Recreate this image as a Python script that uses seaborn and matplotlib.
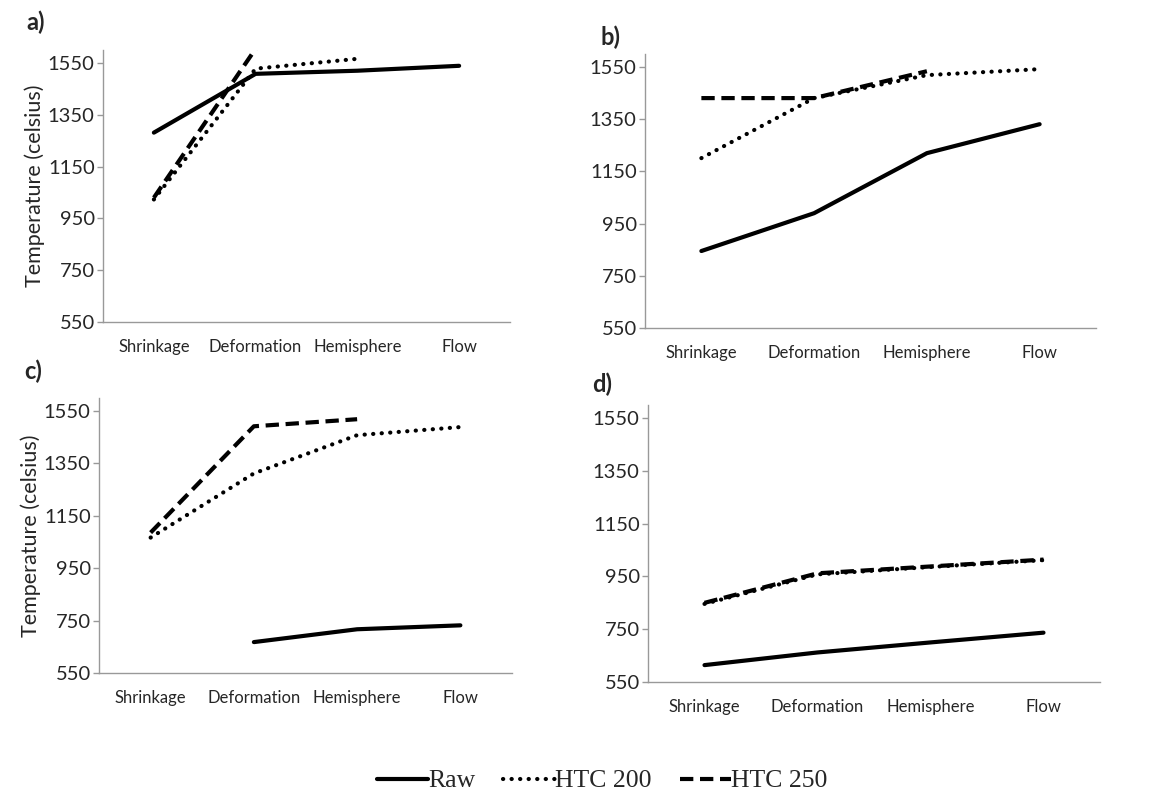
import numpy as np
import pandas as pd
import matplotlib
matplotlib.use("Agg")
import matplotlib.pyplot as plt
import seaborn as sns

# categories on the x axis
stages = ["Shrinkage", "Deformation", "Hemisphere", "Flow"]
series_names = ["Raw", "HTC 200", "HTC 250"]

# values (nan = no point)
raw_a = [1281, 1508, 1520, 1539]
htc200_a = [1023, 1528, 1566, np.nan]
htc250_a = [1030, 1605, np.nan, np.nan]

raw_b = [845, 990, 1220, 1331]
htc200_b = [1201, 1431, 1519, 1542]
htc250_b = [1431, 1431, 1534, np.nan]

raw_c = [np.nan, 668, 717, 732]
htc200_c = [1067, 1312, 1458, 1489]
htc250_c = [1086, 1492, 1519, np.nan]

raw_d = [614, 662, 700, 737]
htc200_d = [846, 958, 986, 1012]
htc250_d = [850, 962, 988, 1014]

panels = {
    "a)": (raw_a, htc200_a, htc250_a),
    "b)": (raw_b, htc200_b, htc250_b),
    "c)": (raw_c, htc200_c, htc250_c),
    "d)": (raw_d, htc200_d, htc250_d),
}
yticks = [550, 750, 950, 1150, 1350, 1550]

sns.set_style("white")
plt.rcParams["font.family"] = ["Lato", "DejaVu Sans"]

W, H = 1152, 809
fig = plt.figure(figsize=(W / 100, H / 100), dpi=100)

# axes boxes in pixels: left, top, right, bottom
boxes = {
    "a)": (103, 50, 510, 322),
    "b)": (645, 54, 1096, 328),
    "c)": (99, 398, 512, 673),
    "d)": (648, 405, 1100, 682),
}
label_pos = {"a)": (26, 22), "b)": (600, 37), "c)": (24, 371), "d)": (592, 384)}

styles = {
    "Raw": dict(linestyle="-", linewidth=3.0),
    "HTC 200": dict(linestyle=(0, (0.05, 2.0)), linewidth=3.0, dash_capstyle="round"),
    "HTC 250": dict(linestyle=(0, (3.2, 1.6)), linewidth=3.0),
}

handles = {}
for key, vals in panels.items():
    l, t, r, b = boxes[key]
    ax = fig.add_axes([l / W, 1 - b / H, (r - l) / W, (b - t) / H])
    x = np.arange(len(stages))
    for name, v in zip(series_names, vals):
        df = pd.DataFrame({"x": x, "y": v}).dropna()
        sns.lineplot(data=df, x="x", y="y", ax=ax, color="black",
                     label=name, legend=False, **styles[name])
    ax.set_xlim(-0.5, 3.5)
    ax.set_ylim(550, 1600)
    ax.set_yticks(yticks)
    ax.set_yticklabels([str(v) for v in yticks], fontsize=14.5)
    # major ticks at category borders, labels at category centres
    ax.set_xticks(np.arange(-0.5, 4, 1))
    ax.set_xticklabels([])
    ax.set_xticks(x, minor=True)
    ax.set_xticklabels(stages, minor=True, fontsize=12)
    ax.tick_params(axis="x", which="major", length=8, width=1, color="#999999", direction="out")
    ax.tick_params(axis="x", which="minor", length=0, pad=12)
    ax.tick_params(axis="y", length=4, width=1, color="#999999", direction="out", pad=2, left=True)
    ax.set_xlabel("")
    ax.set_ylabel("")
    for s in ["top", "right"]:
        ax.spines[s].set_visible(False)
    for s in ["left", "bottom"]:
        ax.spines[s].set_color("#999999")
        ax.spines[s].set_linewidth(1)
    if key in ("a)", "c)"):
        ax.set_ylabel("Temperature (celsius)", fontsize=15.5, labelpad=2)
    fig.text(label_pos[key][0] / W, 1 - label_pos[key][1] / H, key,
             fontsize=17, fontweight="bold", va="center", ha="left")
    if key == "a)":
        handles = ax.get_lines()

fig.legend(handles[:3], series_names, loc="center", bbox_to_anchor=(602 / W, 1 - 781 / H),
           ncol=3, frameon=False, handlelength=2.0, handletextpad=0.0, columnspacing=1.1,
           prop={"family": "Liberation Serif", "size": 18.5})

fig.savefig("out.png", dpi=100)
